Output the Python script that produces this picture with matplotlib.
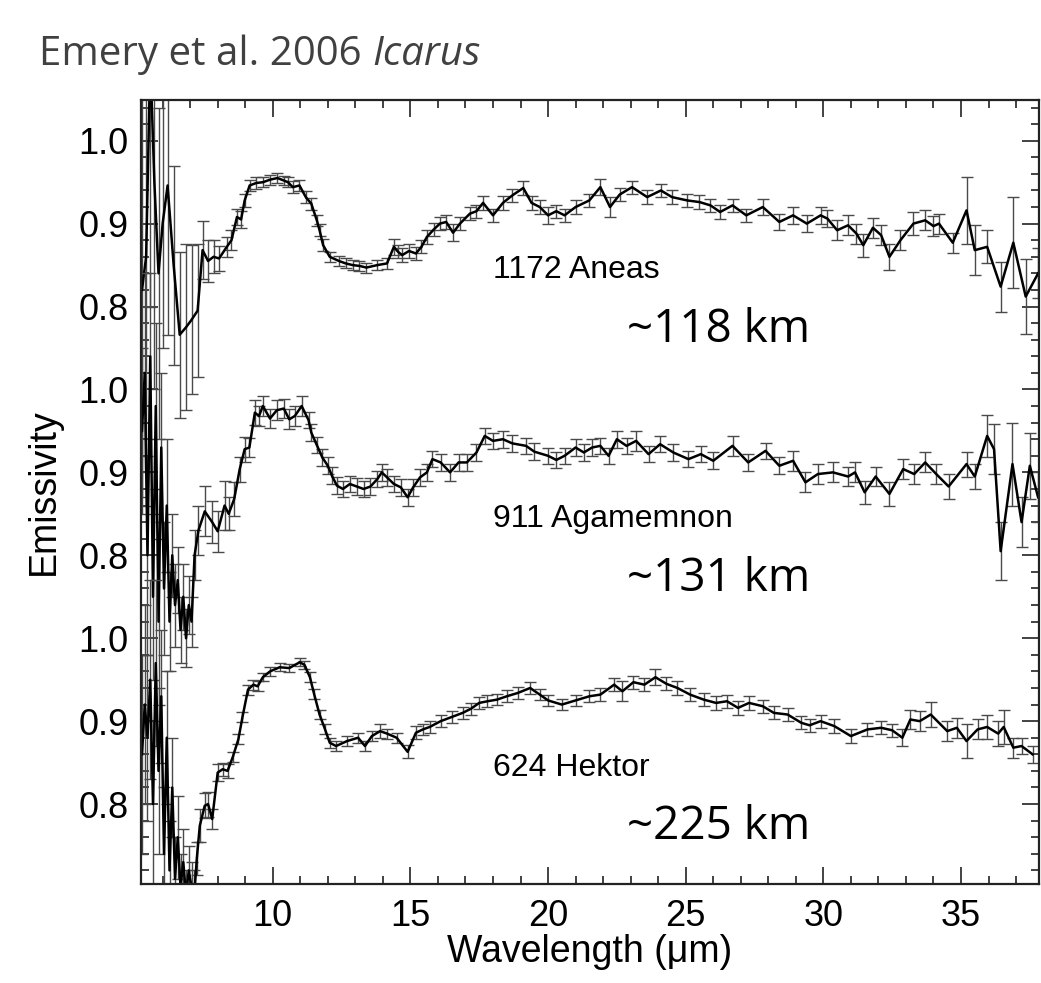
import numpy as np
import matplotlib
matplotlib.use('Agg')
import matplotlib.pyplot as plt
from matplotlib.ticker import FixedLocator, MultipleLocator

# === DATA (read off Emery et al. 2006, Fig.) ===
# 1172 Aneas, plotted with +0.6 offset
wl_aneas = [5.25, 5.4, 5.55, 5.7, 5.85, 6.0, 6.18, 6.4, 6.62, 6.85, 7.05, 7.27, 7.45, 7.65, 7.85,
            8.05, 8.33, 8.5, 8.7, 8.85, 8.98, 9.16, 9.4, 9.65, 9.9, 10.17, 10.4, 10.55, 10.73, 10.97,
            11.2, 11.4, 11.6, 11.7, 11.83, 12.07, 12.4, 12.65, 12.9, 13.15, 13.4, 13.8, 14.15, 14.4,
            14.55, 14.7, 14.95, 15.2, 15.4, 15.6, 15.85, 16.07, 16.3, 16.55, 16.8, 17.16, 17.4, 17.64,
            18.0, 18.36, 18.7, 19.1, 19.4, 19.7, 20.0, 20.3, 20.6, 21.0, 21.5, 21.9, 22.25, 22.6, 23.05,
            23.6, 24.1, 24.5, 25.05, 25.5, 25.9, 26.25, 26.7, 27.2, 27.8, 28.4, 28.9, 29.4, 29.9, 30.15,
            30.5, 30.9, 31.2, 31.45, 31.8, 32.1, 32.4, 32.8, 33.27, 33.7, 34.0, 34.2, 34.7, 35.2, 35.5,
            35.95, 36.44, 36.9, 37.35, 37.8]
em_aneas = [0.82, 0.86, 1.10, 0.95, 0.84, 0.90, 0.946, 0.85, 0.766, 0.775, 0.784, 0.795, 0.868, 0.855, 0.86,
            0.858, 0.872, 0.88, 0.908, 0.905, 0.928, 0.946, 0.949, 0.95, 0.953, 0.955, 0.952, 0.95, 0.944, 0.946,
            0.932, 0.924, 0.904, 0.892, 0.874, 0.86, 0.855, 0.852, 0.85, 0.849, 0.847, 0.85, 0.852, 0.872,
            0.866, 0.862, 0.867, 0.864, 0.872, 0.884, 0.893, 0.9, 0.902, 0.889, 0.9, 0.912, 0.915, 0.925,
            0.91, 0.925, 0.934, 0.943, 0.925, 0.92, 0.91, 0.915, 0.91, 0.92, 0.928, 0.944, 0.92, 0.935, 0.944,
            0.932, 0.94, 0.932, 0.928, 0.926, 0.922, 0.914, 0.922, 0.91, 0.92, 0.902, 0.91, 0.9, 0.91, 0.906,
            0.892, 0.898, 0.888, 0.874, 0.895, 0.886, 0.86, 0.88, 0.9, 0.904, 0.897, 0.9, 0.877, 0.916, 0.868,
            0.872, 0.824, 0.877, 0.812, 0.84]
err_aneas = [0.25, 0.3, 0.3, 0.25, 0.2, 0.15, 0.18, 0.12, 0.1, 0.1, 0.09, 0.08, 0.035, 0.025, 0.02,
             0.015, 0.012, 0.012, 0.01, 0.01, 0.008, 0.007, 0.007, 0.006, 0.006, 0.006, 0.006, 0.006, 0.007, 0.007,
             0.007, 0.007, 0.007, 0.007, 0.007, 0.006, 0.006, 0.006, 0.006, 0.006, 0.006, 0.006, 0.007, 0.01,
             0.008, 0.008, 0.008, 0.008, 0.008, 0.008, 0.008, 0.008, 0.008, 0.01, 0.008, 0.008, 0.008, 0.008,
             0.008, 0.008, 0.008, 0.008, 0.008, 0.008, 0.01, 0.008, 0.008, 0.008, 0.008, 0.01, 0.012, 0.008, 0.008,
             0.008, 0.008, 0.008, 0.008, 0.008, 0.008, 0.008, 0.008, 0.008, 0.01, 0.01, 0.01, 0.01, 0.01, 0.01,
             0.012, 0.012, 0.012, 0.014, 0.012, 0.012, 0.016, 0.012, 0.014, 0.012, 0.012, 0.012, 0.012, 0.04, 0.03,
             0.02, 0.03, 0.055, 0.045, 0.03]

# 911 Agamemnon, plotted with +0.3 offset
wl_agam = [5.25, 5.35, 5.45, 5.55, 5.65, 5.75, 5.85, 5.95, 6.05, 6.15, 6.25, 6.35, 6.45, 6.55, 6.65,
           6.75, 6.85, 6.95, 7.05, 7.16, 7.3, 7.53, 7.8, 8.0, 8.25, 8.4, 8.6, 8.8, 8.98, 9.15, 9.35,
           9.5, 9.64, 9.9, 10.15, 10.4, 10.6, 10.8, 11.05, 11.3, 11.4, 11.6, 11.8, 12.0, 12.15, 12.33,
           12.55, 12.8, 13.05, 13.3, 13.55, 13.8, 13.96, 14.15, 14.4, 14.65, 14.9, 15.1, 15.35, 15.6,
           15.8, 16.1, 16.44, 16.75, 17.05, 17.4, 17.7, 18.0, 18.36, 18.7, 19.2, 19.5, 20.0, 20.3, 20.6,
           21.0, 21.3, 21.6, 21.9, 22.2, 22.5, 22.85, 23.2, 23.65, 24.07, 24.55, 25.1, 25.55, 26.0, 26.7,
           27.27, 27.9, 28.4, 28.9, 29.35, 29.8, 30.35, 30.9, 31.15, 31.5, 31.9, 32.4, 32.9, 33.3, 33.7,
           34.1, 34.55, 35.2, 35.5, 35.95, 36.2, 36.44, 36.87, 37.2, 37.5, 37.8]
em_agam = [0.95, 1.02, 0.8, 1.04, 0.75, 0.98, 0.72, 0.93, 0.76, 0.86, 0.72, 0.8, 0.74, 0.77, 0.71,
           0.75, 0.7, 0.74, 0.72, 0.8, 0.83, 0.853, 0.84, 0.829, 0.86, 0.85, 0.868, 0.904, 0.928, 0.93, 0.972,
           0.968, 0.98, 0.965, 0.975, 0.977, 0.964, 0.968, 0.98, 0.963, 0.948, 0.933, 0.918, 0.908, 0.896, 0.884,
           0.88, 0.886, 0.883, 0.88, 0.883, 0.892, 0.9, 0.894, 0.886, 0.882, 0.87, 0.882, 0.894, 0.9,
           0.916, 0.912, 0.9, 0.912, 0.912, 0.924, 0.944, 0.938, 0.94, 0.935, 0.932, 0.925, 0.92, 0.915, 0.92,
           0.93, 0.924, 0.93, 0.932, 0.92, 0.94, 0.932, 0.938, 0.922, 0.934, 0.924, 0.916, 0.922, 0.914, 0.932,
           0.912, 0.926, 0.908, 0.914, 0.888, 0.898, 0.9, 0.895, 0.9, 0.876, 0.895, 0.874, 0.904, 0.898, 0.912,
           0.898, 0.883, 0.91, 0.895, 0.944, 0.928, 0.805, 0.91, 0.84, 0.908, 0.87]
err_agam = [0.1, 0.12, 0.12, 0.1, 0.1, 0.1, 0.1, 0.09, 0.08, 0.08, 0.06, 0.05, 0.05, 0.04, 0.04,
            0.04, 0.035, 0.035, 0.03, 0.03, 0.03, 0.03, 0.025, 0.025, 0.03, 0.02, 0.02, 0.015, 0.015, 0.012, 0.015,
            0.012, 0.012, 0.012, 0.012, 0.012, 0.012, 0.012, 0.012, 0.01, 0.01, 0.01, 0.01, 0.01, 0.01, 0.01,
            0.01, 0.01, 0.01, 0.01, 0.01, 0.01, 0.01, 0.01, 0.01, 0.01, 0.01, 0.01, 0.01, 0.01,
            0.01, 0.01, 0.01, 0.01, 0.01, 0.01, 0.01, 0.01, 0.01, 0.01, 0.01, 0.01, 0.01, 0.01, 0.01,
            0.01, 0.01, 0.01, 0.01, 0.01, 0.01, 0.01, 0.012, 0.01, 0.01, 0.01, 0.01, 0.01, 0.01, 0.012,
            0.01, 0.01, 0.01, 0.012, 0.012, 0.012, 0.012, 0.012, 0.012, 0.014, 0.012, 0.014, 0.012, 0.012, 0.012,
            0.012, 0.015, 0.015, 0.015, 0.025, 0.03, 0.035, 0.05, 0.03, 0.04, 0.03]

# 624 Hektor, no offset
wl_hek = [5.25, 5.35, 5.45, 5.55, 5.65, 5.75, 5.85, 5.95, 6.05, 6.15, 6.25, 6.35, 6.45, 6.55, 6.65,
          6.75, 6.85, 6.95, 7.05, 7.15, 7.24, 7.35, 7.53, 7.65, 7.8, 8.0, 8.18, 8.36, 8.55, 8.75, 8.9,
          9.1, 9.3, 9.45, 9.64, 9.9, 10.25, 10.6, 10.98, 11.15, 11.35, 11.5, 11.7, 11.9, 12.07, 12.3,
          12.7, 13.1, 13.35, 13.6, 13.9, 14.15, 14.5, 14.9, 15.2, 15.45, 15.7, 16.1, 16.5, 16.9, 17.2,
          17.5, 17.8, 18.15, 18.5, 18.9, 19.35, 19.7, 20.0, 20.5, 21.0, 21.5, 21.9, 22.4, 22.7, 23.1,
          23.5, 23.9, 24.3, 24.7, 25.16, 25.65, 26.1, 26.5, 26.9, 27.3, 27.8, 28.2, 28.7, 29.2, 29.5,
          29.9, 30.4, 31.0, 31.6, 32.1, 32.5, 32.87, 33.16, 33.5, 33.9, 34.5, 34.85, 35.2, 35.6, 35.95,
          36.35, 36.55, 36.9, 37.2, 37.6]
em_hek = [0.86, 0.92, 0.88, 0.95, 0.8, 0.97, 0.84, 0.93, 0.74, 0.88, 0.72, 0.82, 0.71, 0.76, 0.7,
          0.73, 0.69, 0.72, 0.70, 0.69, 0.734, 0.774, 0.798, 0.80, 0.782, 0.838, 0.842, 0.84, 0.857, 0.878, 0.905,
          0.938, 0.944, 0.942, 0.953, 0.96, 0.965, 0.964, 0.971, 0.968, 0.953, 0.933, 0.908, 0.89, 0.874, 0.87,
          0.876, 0.88, 0.87, 0.882, 0.888, 0.885, 0.88, 0.863, 0.886, 0.89, 0.893, 0.9, 0.905, 0.91, 0.915,
          0.922, 0.924, 0.926, 0.93, 0.934, 0.94, 0.932, 0.925, 0.92, 0.925, 0.93, 0.932, 0.944, 0.936, 0.947,
          0.944, 0.953, 0.945, 0.94, 0.932, 0.926, 0.922, 0.924, 0.916, 0.922, 0.918, 0.91, 0.908, 0.898, 0.895,
          0.9, 0.894, 0.882, 0.89, 0.892, 0.889, 0.88, 0.902, 0.9, 0.908, 0.888, 0.892, 0.876, 0.89, 0.893,
          0.885, 0.893, 0.868, 0.87, 0.86]
err_hek = [0.12, 0.12, 0.1, 0.12, 0.1, 0.1, 0.1, 0.08, 0.08, 0.08, 0.06, 0.06, 0.05, 0.05, 0.04,
           0.04, 0.03, 0.03, 0.03, 0.03, 0.02, 0.02, 0.015, 0.015, 0.012, 0.01, 0.008, 0.008, 0.006, 0.006, 0.006,
           0.006, 0.006, 0.006, 0.005, 0.005, 0.005, 0.005, 0.005, 0.005, 0.006, 0.006, 0.006, 0.006, 0.006, 0.006,
           0.006, 0.006, 0.006, 0.006, 0.008, 0.006, 0.006, 0.008, 0.008, 0.007, 0.007, 0.007, 0.007, 0.007, 0.007,
           0.007, 0.007, 0.007, 0.007, 0.007, 0.007, 0.007, 0.007, 0.007, 0.007, 0.007, 0.008, 0.008, 0.012, 0.008,
           0.008, 0.01, 0.008, 0.008, 0.008, 0.008, 0.008, 0.008, 0.008, 0.008, 0.008, 0.008, 0.008, 0.008, 0.008,
           0.008, 0.008, 0.008, 0.008, 0.008, 0.008, 0.01, 0.012, 0.012, 0.015, 0.012, 0.012, 0.02, 0.012, 0.015,
           0.015, 0.02, 0.012, 0.01, 0.01]

names = ['1172 Aneas', '911 Agamemnon', '624 Hektor']
sizes = ['~118 km', '~131 km', '~225 km']
offsets = [0.6, 0.3, 0.0]

ytick_pos = [0.8, 0.9, 1.0, 1.1, 1.2, 1.3, 1.4, 1.5, 1.6]
ytick_lab = ['0.8', '0.9', '1.0', '0.8', '0.9', '1.0', '0.8', '0.9', '1.0']
xtick_pos = [10, 15, 20, 25, 30, 35]

series = [(wl_aneas, em_aneas, err_aneas),
          (wl_agam, em_agam, err_agam),
          (wl_hek, em_hek, err_hek)]

plt.rcParams['font.family'] = ['Liberation Sans', 'DejaVu Sans']

fig = plt.figure(figsize=(10.41, 9.83), dpi=100)
ax = fig.add_axes([0.1355, 0.1007, 0.8625, 0.7975])

for (wl, em, err), off in zip(series, offsets):
    y = np.array(em) + off
    ax.errorbar(wl, y, yerr=err, fmt='none', ecolor='#4a4a4a', elinewidth=1.0,
                capsize=4, capthick=1.0)
    ax.plot(wl, y, color='black', lw=1.8)

# labels next to each spectrum
for name, size, off in zip(names, sizes, offsets):
    ax.text(18.0, 0.844 + off, name, fontsize=23, va='center', ha='left')
    ax.text(22.85, 0.772 + off, size, fontsize=33, va='center', ha='left',
            family=['Open Sans', 'DejaVu Sans'])

ax.set_xlim(5.216, 37.83)
ax.set_ylim(0.7036, 1.649)

ax.xaxis.set_major_locator(FixedLocator(xtick_pos))
ax.xaxis.set_minor_locator(MultipleLocator(1))
ax.yaxis.set_major_locator(FixedLocator(ytick_pos))
ax.set_yticklabels(ytick_lab)
ax.yaxis.set_minor_locator(MultipleLocator(0.02))

ax.tick_params(which='both', direction='in', top=True, right=True, width=1.2, color='#222222')
ax.tick_params(which='major', length=12, labelsize=26)
ax.tick_params(which='minor', length=6)
ax.tick_params(axis='x', which='major', pad=11)
ax.tick_params(axis='y', which='major', pad=9)
for s in ax.spines.values():
    s.set_linewidth(1.6)
    s.set_color('#222222')

ax.set_xlabel('Wavelength (\u03bcm)', fontsize=27, labelpad=0)
ax.set_ylabel('Emissivity', fontsize=27, labelpad=12)

# title: plain part, then italic journal name right after it
t1 = fig.text(0.037, 0.944, 'Emery et al. 2006', fontsize=29, color='#404040', va='center', ha='left',
              family=['Open Sans', 'DejaVu Sans'])
fig.canvas.draw()
bb = t1.get_window_extent()
fig.text((bb.x1 + 11) / fig.bbox.width, 0.944, 'Icarus', fontsize=29, color='#404040', va='center',
         ha='left', style='italic', family=['Open Sans', 'DejaVu Sans'])

fig.savefig('out.png', dpi=100)
